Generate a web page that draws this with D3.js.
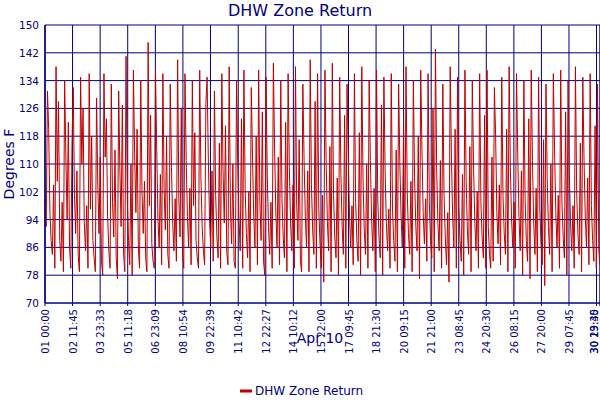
<!DOCTYPE html>
<html><head><meta charset="utf-8">
<script src="https://cdn.jsdelivr.net/npm/d3@7"></script>
<style>body{margin:0;background:#fff}text{font-family:Verdana,"DejaVu Sans",sans-serif}</style>
</head><body><svg id="c" width="600" height="400"></svg>
<script>
const tickLabels=["01 00:00","02 11:45","03 23:33","05 11:18","06 23:09","08 10:54","09 22:39","11 10:42","12 22:27","14 10:12","15 22:00","17 09:45","18 21:30","20 09:15","21 21:00","23 08:45","24 20:30","26 08:15","27 20:00","29 07:45","30 19:30","30 23:45"];
const tickHours=[0,35.75,71.55,107.3,143.15,178.9,214.65,250.7,286.45,322.2,358,393.75,429.5,465.25,501,536.75,572.5,608.25,644,679.75,715.5,719.75];
const yTicks=[70,78,86,94,102,110,118,126,134,142,150];
const values=[100,92,131,120,96,88,84,104,80,138,105,128,88,82,99,79,134,112,94,122,86,80,116,132,101,90,108,84,79,135,110,126,93,85,98,80,136,97,118,88,83,79,129,104,90,112,82,78,136,112,123,95,85,80,133,99,89,114,83,77,131,108,92,127,84,79,141,100,88,81,110,78,137,113,96,120,86,80,134,102,90,105,83,79,145,98,124,87,82,80,137,114,94,86,107,81,136,103,91,118,84,80,133,109,93,85,100,82,140,100,89,126,84,80,136,111,95,86,103,81,134,98,119,88,83,80,137,106,92,85,81,127,135,112,94,86,108,82,131,101,89,83,116,80,136,108,93,121,85,81,138,97,87,110,82,80,134,110,94,85,123,80,137,103,90,83,102,79,132,112,95,86,118,81,137,99,88,125,82,78,135,107,92,84,99,80,139,114,96,86,112,81,134,100,89,83,122,79,136,109,93,85,104,80,138,98,88,117,82,79,133,111,95,86,108,79,140,104,91,84,128,80,136,97,87,80,101,76,137,110,93,85,115,79,139,101,89,83,106,78,135,107,92,84,124,80,133,112,95,86,98,81,136,99,88,82,119,78,138,106,91,84,110,80,134,111,94,85,103,79,137,100,89,83,127,78,135,108,93,85,97,80,136,97,88,82,114,79,133,110,95,86,121,80,138,102,90,84,105,79,134,106,92,85,118,77,137,114,96,87,100,82,136,99,88,83,126,79,143,108,93,85,111,80,133,101,89,81,96,76,138,112,95,86,120,80,135,98,88,82,107,78,137,105,91,84,115,79,134,110,94,85,102,80,136,99,89,83,124,80,137,92,84,80,112,82,132,118,96,87,104,81,135,101,90,84,120,79,138,109,94,86,99,80,136,113,95,85,108,78,134,100,88,82,123,77,137,111,93,84,103,79,135,97,87,81,117,75,133,106,92,84,110,79,136,114,96,86,101,80,137,99,89,83,125,78,134,108,93,85,98,80,138,102,90,84,116,79,135,111,95,86,106,81,136,98,88,82,121,80,133,85,81];
const W=600,H=400,m={l:45,r:0,t:25,b:97};
const svg=d3.select("#c");
const x=d3.scaleLinear().domain([0,720]).range([m.l,W-m.r]);
const y=d3.scaleLinear().domain([70,150]).range([H-m.b,m.t]);
const navy="#000080";
svg.append("g").selectAll("line").data(yTicks.slice(1)).join("line").attr("x1",m.l).attr("x2",W).attr("y1",d=>y(d)).attr("y2",d=>y(d)).attr("stroke",navy);
svg.append("g").selectAll("line").data(tickHours).join("line").attr("x1",d=>x(d)).attr("x2",d=>x(d)).attr("y1",m.t).attr("y2",H-m.b+3).attr("stroke",navy);
const step=720/(values.length-1);
svg.append("path").datum(values).attr("fill","none").attr("stroke","#c00000").attr("stroke-width",1)
 .attr("d",d3.line().x((d,i)=>x(i*step)).y(d=>y(d)));
svg.append("line").attr("x1",m.l).attr("x2",W).attr("y1",y(70)).attr("y2",y(70)).attr("stroke",navy).attr("stroke-width",1.5);
svg.append("line").attr("x1",m.l).attr("x2",m.l).attr("y1",m.t).attr("y2",y(70)).attr("stroke",navy).attr("stroke-width",1.5);
svg.append("g").selectAll("text").data(yTicks).join("text").attr("x",m.l-6).attr("y",d=>y(d)+4).attr("text-anchor","end").attr("font-size",10.5).attr("fill",navy).text(d=>d);
svg.append("g").selectAll("text").data(tickHours).join("text").attr("transform",(d,i)=>`translate(${Math.min(x(d)+4,598)},${H-m.b+6}) rotate(-90)`).attr("text-anchor","end").attr("font-size",10).attr("fill",navy).text((d,i)=>tickLabels[i]);
svg.append("text").attr("x",320).attr("y",343).attr("text-anchor","middle").attr("font-size",14).attr("fill",navy).text("Apr 10");
svg.append("text").attr("x",300).attr("y",16).attr("text-anchor","middle").attr("font-size",16).attr("fill",navy).text("DHW Zone Return");
svg.append("text").attr("transform","translate(14,164) rotate(-90)").attr("text-anchor","middle").attr("font-size",14).attr("fill",navy).text("Degrees F");
svg.append("line").attr("x1",240).attr("x2",252).attr("y1",391).attr("y2",391).attr("stroke","#c00000").attr("stroke-width",3);
svg.append("text").attr("x",255).attr("y",395).attr("font-size",12).attr("fill",navy).text("DHW Zone Return");
</script></body></html>
